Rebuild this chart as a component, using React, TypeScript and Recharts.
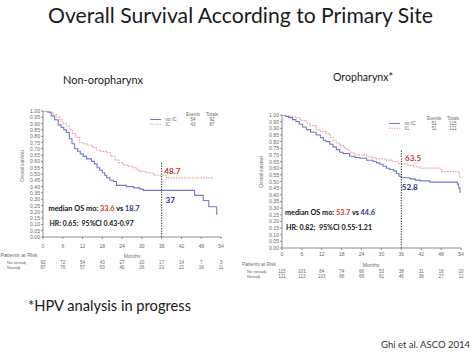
import React from 'react';
import { LineChart, Line, XAxis, YAxis, ReferenceLine, ReferenceDot } from 'recharts';

const monthTicks = [0, 6, 12, 18, 24, 30, 36, 42, 48, 54];
const survivalTicks = [0, 0.05, 0.1, 0.15, 0.2, 0.25, 0.3, 0.35, 0.4, 0.45, 0.5, 0.55, 0.6, 0.65, 0.7, 0.75, 0.8, 0.85, 0.9, 0.95, 1];

const nonOroNoIC = [
  { t: 0, s: 1 }, { t: 1.5, s: 0.99 }, { t: 2.5, s: 0.96 }, { t: 3.5, s: 0.93 }, { t: 4.6, s: 0.89 },
  { t: 5.5, s: 0.87 }, { t: 6.3, s: 0.85 }, { t: 7.1, s: 0.83 }, { t: 8, s: 0.78 }, { t: 8.8, s: 0.74 },
  { t: 9.6, s: 0.7 }, { t: 10.5, s: 0.68 }, { t: 11.3, s: 0.66 }, { t: 12.2, s: 0.64 }, { t: 13.2, s: 0.62 },
  { t: 14.7, s: 0.6 }, { t: 15.6, s: 0.58 }, { t: 16.4, s: 0.55 }, { t: 17.2, s: 0.53 }, { t: 18, s: 0.51 },
  { t: 18.7, s: 0.49 }, { t: 19.3, s: 0.47 }, { t: 20.3, s: 0.45 }, { t: 21.3, s: 0.44 }, { t: 22.3, s: 0.41 },
  { t: 25.3, s: 0.4 }, { t: 27.5, s: 0.39 }, { t: 29.4, s: 0.38 }, { t: 30.4, s: 0.37 }, { t: 46, s: 0.33 },
  { t: 48.6, s: 0.29 }, { t: 50.3, s: 0.24 }, { t: 52.7, s: 0.18 }, { t: 52.9, s: 0.18 },
];
const nonOroIC = [
  { t: 0, s: 1 }, { t: 2, s: 0.99 }, { t: 3, s: 0.97 }, { t: 4, s: 0.95 }, { t: 5.1, s: 0.93 },
  { t: 6, s: 0.9 }, { t: 7.1, s: 0.88 }, { t: 8, s: 0.85 }, { t: 9, s: 0.82 }, { t: 10, s: 0.79 },
  { t: 11.1, s: 0.75 }, { t: 12, s: 0.74 }, { t: 13.2, s: 0.73 }, { t: 15, s: 0.71 }, { t: 16.2, s: 0.69 },
  { t: 17.5, s: 0.68 }, { t: 19.3, s: 0.67 }, { t: 20.5, s: 0.64 }, { t: 21.8, s: 0.61 }, { t: 23, s: 0.59 },
  { t: 24.3, s: 0.57 }, { t: 26, s: 0.56 }, { t: 27.4, s: 0.55 }, { t: 28.5, s: 0.53 }, { t: 29.5, s: 0.52 },
  { t: 31, s: 0.51 }, { t: 33.6, s: 0.49 }, { t: 37.5, s: 0.47 }, { t: 51.7, s: 0.47 },
];
const oroNoIC = [
  { t: 0, s: 1 }, { t: 1, s: 0.99 }, { t: 2, s: 0.98 }, { t: 3.2, s: 0.965 }, { t: 4.2, s: 0.95 },
  { t: 5.2, s: 0.93 }, { t: 6.2, s: 0.91 }, { t: 7.3, s: 0.89 }, { t: 8.6, s: 0.87 }, { t: 10.3, s: 0.85 },
  { t: 11.6, s: 0.83 }, { t: 12.5, s: 0.81 }, { t: 13.3, s: 0.8 }, { t: 14.4, s: 0.78 }, { t: 15.4, s: 0.76 },
  { t: 16.4, s: 0.74 }, { t: 17.4, s: 0.72 }, { t: 18.4, s: 0.71 }, { t: 20.4, s: 0.69 }, { t: 22, s: 0.68 },
  { t: 23.5, s: 0.675 }, { t: 25.5, s: 0.66 }, { t: 27.5, s: 0.65 }, { t: 28.5, s: 0.64 }, { t: 29.5, s: 0.63 },
  { t: 30.5, s: 0.615 }, { t: 31.5, s: 0.6 }, { t: 32.5, s: 0.59 }, { t: 33.6, s: 0.58 }, { t: 34.5, s: 0.56 },
  { t: 35.3, s: 0.54 }, { t: 36, s: 0.528 }, { t: 38.6, s: 0.52 }, { t: 40.2, s: 0.51 }, { t: 41.7, s: 0.505 },
  { t: 44.6, s: 0.495 }, { t: 52.9, s: 0.48 }, { t: 53.3, s: 0.45 }, { t: 53.7, s: 0.42 }, { t: 53.9, s: 0.42 },
];
const oroIC = [
  { t: 0, s: 1 }, { t: 2, s: 0.99 }, { t: 4.2, s: 0.98 }, { t: 5.5, s: 0.96 }, { t: 7.3, s: 0.94 },
  { t: 8.5, s: 0.92 }, { t: 10.3, s: 0.89 }, { t: 11.6, s: 0.875 }, { t: 13.3, s: 0.86 }, { t: 14.5, s: 0.83 },
  { t: 15.5, s: 0.81 }, { t: 16.4, s: 0.79 }, { t: 17.5, s: 0.77 }, { t: 18.5, s: 0.755 }, { t: 19.4, s: 0.74 },
  { t: 20.5, s: 0.72 }, { t: 21.5, s: 0.71 }, { t: 22.4, s: 0.7 }, { t: 25.5, s: 0.69 }, { t: 27, s: 0.68 },
  { t: 28.5, s: 0.67 }, { t: 31.5, s: 0.66 }, { t: 33.5, s: 0.65 }, { t: 35, s: 0.635 }, { t: 38, s: 0.62 },
  { t: 39.6, s: 0.61 }, { t: 41.7, s: 0.6 }, { t: 47.7, s: 0.59 }, { t: 48.2, s: 0.575 }, { t: 53.5, s: 0.53 },
  { t: 53.9, s: 0.53 },
];

const nonOroRiskNoIC = [92, 72, 54, 43, 27, 20, 17, 14, 7, 3];
const nonOroRiskIC = [87, 76, 57, 53, 40, 26, 21, 21, 16, 11];
const oroRiskNoIC = [115, 101, 84, 74, 66, 53, 38, 31, 18, 10];
const oroRiskIC = [121, 113, 103, 86, 69, 61, 46, 36, 27, 12];

const nonOroEvents = ['54', '43'];
const nonOroTotals = ['92', '87'];
const oroEvents = ['51', '51'];
const oroTotals = ['115', '121'];

const nonOroAt36 = { ic: '48.7', noIC: '37' };
const oroAt36 = { ic: '63.5', noIC: '52.8' };
const nonOroMedian = { ic: '33.6', noIC: '18.7', hr: 'HR: 0.65;  95%CI 0.43-0.97' };
const oroMedian = { ic: '53.7', noIC: '44.6', hr: 'HR: 0.82;  95%CI 0.55-1.21' };

const AXIS = '#8c8c8c';
const TICK_TXT = '#6a6a6a';
const BLUE = '#7878c6';
const PINK = '#eaa4a4';
const RED_TXT = '#c9372c';
const BLUE_TXT = '#2e3192';
const SMALL = "'Liberation Sans', Arial, sans-serif";
const SLIDE = "Lato, 'Open Sans', sans-serif";

function XTick(props: any) {
  const { x, y, payload, off } = props;
  return (
    <text x={x} y={y + off} textAnchor="middle" dominantBaseline="central" fontSize={5} fill={TICK_TXT} fontFamily={SMALL}>
      {payload.value}
    </text>
  );
}

function RiskTick(props: any) {
  const { x, y, payload, off, row } = props;
  const i = monthTicks.indexOf(payload.value);
  return (
    <text x={x} y={y + off} textAnchor="middle" dominantBaseline="central" fontSize={4.6} fill={TICK_TXT} fontFamily={SMALL}>
      {i >= 0 ? row[i] : ''}
    </text>
  );
}

function YTick(props: any) {
  const { x, y, payload } = props;
  return (
    <text x={x} y={y} textAnchor="end" dominantBaseline="central" fontSize={5.1} fill={TICK_TXT} fontFamily={SMALL}>
      {Number(payload.value).toFixed(2)}
    </text>
  );
}

function AnnLabel(props: any) {
  const { viewBox, text, color } = props;
  const vb = viewBox || { x: 0, y: 0, width: 0, height: 0 };
  const cx = vb.x + (vb.width || 0) / 2;
  const cy = vb.y + (vb.height || 0) / 2;
  return (
    <text x={cx} y={cy} fill={color} fontSize={8.2} fontWeight="bold" dominantBaseline="central" fontFamily={SLIDE}>
      {text}
    </text>
  );
}

type PanelProps = {
  left: number; top: number; width: number; height: number;
  margin: any; yWidth: number;
  noIC: any[]; ic: any[]; riskNoIC: number[]; riskIC: number[];
  mainH: number; mainOff: number; dashTop: number;
  at36: { ic: string; noIC: string };
  icLabel: { t: number; s: number }; noICLabel: { t: number; s: number };
};

function Panel(p: PanelProps) {
  return (
    <div style={{ position: 'absolute', left: p.left, top: p.top, width: p.width, height: p.height }}>
      <LineChart width={p.width} height={p.height} margin={p.margin}>
        <XAxis
          type="number" dataKey="t" domain={[0, 54]} ticks={monthTicks} interval={0} allowDataOverflow
          height={p.mainH} tickSize={2} tickMargin={0} stroke={AXIS} tick={<XTick off={p.mainOff} />}
        />
        <XAxis
          xAxisId="r1" type="number" dataKey="t" domain={[0, 54]} ticks={monthTicks} interval={0} allowDataOverflow
          height={13} tickSize={0} tickMargin={0} axisLine={false} tickLine={false}
          tick={<RiskTick off={11} row={p.riskNoIC} />}
        />
        <XAxis
          xAxisId="r2" type="number" dataKey="t" domain={[0, 54]} ticks={monthTicks} interval={0} allowDataOverflow
          height={6} tickSize={0} tickMargin={0} axisLine={false} tickLine={false}
          tick={<RiskTick off={3} row={p.riskIC} />}
        />
        <YAxis
          type="number" domain={[0, 1]} ticks={survivalTicks} interval={0} width={p.yWidth}
          tickSize={2} tickMargin={1} stroke={AXIS} tick={<YTick />} allowDataOverflow
        />
        <Line data={p.ic} dataKey="s" type="stepAfter" stroke={PINK} strokeWidth={1.2} strokeDasharray="1.6 1.1" dot={false} isAnimationActive={false} />
        <Line data={p.noIC} dataKey="s" type="stepAfter" stroke={BLUE} strokeWidth={1.1} dot={false} isAnimationActive={false} />
        <ReferenceLine segment={[{ x: 36, y: 0 }, { x: 36, y: p.dashTop }]} stroke="#222" strokeWidth={1} strokeDasharray="1.3 1.3" />
        <ReferenceDot x={p.icLabel.t} y={p.icLabel.s} r={0.5} fill="none" stroke="none" label={<AnnLabel text={p.at36.ic} color={RED_TXT} />} />
        <ReferenceDot x={p.noICLabel.t} y={p.noICLabel.s} r={0.5} fill="none" stroke="none" label={<AnnLabel text={p.at36.noIC} color={BLUE_TXT} />} />
      </LineChart>
    </div>
  );
}

function Legend({ x, y, events, totals, evX, totX }: any) {
  return (
    <g fontFamily={SMALL} fill={TICK_TXT} fontSize={4.6}>
      <line x1={x} x2={x + 11} y1={y} y2={y} stroke={BLUE} strokeWidth={1} />
      <line x1={x} x2={x + 11} y1={y + 4.8} y2={y + 4.8} stroke={PINK} strokeWidth={1} strokeDasharray="1.5 1" />
      <text x={x + 15.5} y={y} dominantBaseline="central">no IC</text>
      <text x={x + 15.5} y={y + 4.8} dominantBaseline="central">IC</text>
      <text x={evX} y={y - 5} textAnchor="middle" dominantBaseline="central">Events</text>
      <text x={totX} y={y - 5} textAnchor="middle" dominantBaseline="central">Totals</text>
      <text x={evX} y={y} textAnchor="middle" dominantBaseline="central">{events[0]}</text>
      <text x={totX} y={y} textAnchor="middle" dominantBaseline="central">{totals[0]}</text>
      <text x={evX} y={y + 4.8} textAnchor="middle" dominantBaseline="central">{events[1]}</text>
      <text x={totX} y={y + 4.8} textAnchor="middle" dominantBaseline="central">{totals[1]}</text>
    </g>
  );
}

function Median({ x, y, w, m, hrY, hrW }: any) {
  return (
    <g fontFamily={SLIDE} fontWeight="bold" fontSize={7.2} fill="#111">
      <text x={x} y={y} textLength={w} lengthAdjust="spacingAndGlyphs">
        <tspan>median OS mo: </tspan>
        <tspan fill={RED_TXT}>{m.ic}</tspan>
        <tspan> vs </tspan>
        <tspan fill={BLUE_TXT}>{m.noIC}</tspan>
      </text>
      <text x={x + 1} y={hrY} textLength={hrW} lengthAdjust="spacingAndGlyphs" xmlSpace="preserve">{m.hr}</text>
    </g>
  );
}

export default function App() {
  return (
    <div style={{ position: 'absolute', left: 0, top: 0, width: 474, height: 355, background: '#fff', overflow: 'hidden' }}>
      <Panel
        left={0} top={100} width={240} height={180}
        margin={{ top: 11, right: 19, left: 0, bottom: 10 }} yWidth={43}
        noIC={nonOroNoIC} ic={nonOroIC} riskNoIC={nonOroRiskNoIC} riskIC={nonOroRiskIC}
        mainH={14} mainOff={6.5} dashTop={0.59} at36={nonOroAt36}
        icLabel={{ t: 36.8, s: 0.525 }} noICLabel={{ t: 37.2, s: 0.29 }}
      />
      <Panel
        left={240} top={100} width={234} height={190}
        margin={{ top: 15, right: 13, left: 0, bottom: 11 }} yWidth={42}
        noIC={oroNoIC} ic={oroIC} riskNoIC={oroRiskNoIC} riskIC={oroRiskIC}
        mainH={12} mainOff={4.3} dashTop={0.74} at36={oroAt36}
        icLabel={{ t: 37.1, s: 0.675 }} noICLabel={{ t: 36.1, s: 0.455 }}
      />
      <svg width={474} height={355} style={{ position: 'absolute', left: 0, top: 0, pointerEvents: 'none' }}>
        <text x={48} y={23} fontFamily={SLIDE} fontSize={21} fill="#1a1a1a" textLength={385} lengthAdjust="spacingAndGlyphs">
          Overall Survival According to Primary Site
        </text>
        <text x={63} y={84} fontFamily={SLIDE} fontSize={11.5} fill="#1a1a1a" textLength={80} lengthAdjust="spacingAndGlyphs">Non-oropharynx</text>
        <text x={333} y={80.5} fontFamily={SLIDE} fontSize={11.5} fill="#1a1a1a" textLength={60} lengthAdjust="spacingAndGlyphs">Oropharynx*</text>
        <text x={28} y={311} fontFamily={SLIDE} fontSize={15} fill="#1a1a1a" textLength={163} lengthAdjust="spacingAndGlyphs">*HPV analysis in progress</text>
        <text x={381} y={348} fontFamily={SLIDE} fontSize={9.5} fill="#333" textLength={89} lengthAdjust="spacingAndGlyphs">Ghi et al. ASCO 2014</text>

        <Legend x={150} y={119.5} events={nonOroEvents} totals={nonOroTotals} evX={193} totX={212} />
        <Legend x={389} y={123.5} events={oroEvents} totals={oroTotals} evX={434} totX={453} />

        <Median x={48.5} y={210.5} w={91} m={nonOroMedian} hrY={225.5} hrW={84} />
        <Median x={285} y={214.5} w={90} m={oroMedian} hrY={229.5} hrW={86} />

        <g fontFamily={SMALL} fill={TICK_TXT}>
          <text x={22} y={166} fontSize={4.6} textAnchor="middle" dominantBaseline="central" transform="rotate(-90 22 166)">Overall survival</text>
          <text x={261} y={172} fontSize={4.6} textAnchor="middle" dominantBaseline="central" transform="rotate(-90 261 172)">Overall survival</text>

          <text x={0.5} y={255} fontSize={5} dominantBaseline="central" textLength={37} lengthAdjust="spacingAndGlyphs">Patients at Risk</text>
          <text x={7} y={262} fontSize={4.2} dominantBaseline="central">No neoadj</text>
          <text x={7} y={267} fontSize={4.2} dominantBaseline="central">Neoadj</text>
          <text x={132} y={256} fontSize={5} textAnchor="middle" dominantBaseline="central">Months</text>

          <text x={242} y={264} fontSize={5} dominantBaseline="central" textLength={34} lengthAdjust="spacingAndGlyphs">Patients at Risk</text>
          <text x={247} y={271} fontSize={4.2} dominantBaseline="central">No neoadj</text>
          <text x={247} y={276} fontSize={4.2} dominantBaseline="central">Neoadj</text>
          <text x={371} y={265} fontSize={5} textAnchor="middle" dominantBaseline="central">Months</text>
        </g>
      </svg>
    </div>
  );
}
